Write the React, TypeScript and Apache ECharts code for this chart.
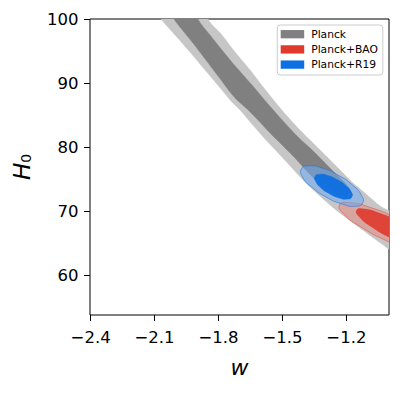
import React, { useEffect, useRef } from 'react';
import * as echarts from 'echarts';

const FONT = 'DejaVu Sans';

// axis ranges and tick labels
const xRange = [-2.403, -1.0];
const yRange = [53.75, 100];
const xTicks = [-2.4, -2.1, -1.8, -1.5, -1.2];
const yTicks = [60, 70, 80, 90, 100];

const legendNames = ['Planck', 'Planck+BAO', 'Planck+R19'];
const legendColors = ['#808080', '#df3a2b', '#0d6fe3'];

// contour boundaries, [w, H0]
const planck95: number[][] = [
  [-1.830, 101.41], [-1.849, 100.0], [-1.784, 97.5], [-1.723, 94.84], [-1.652, 92.03],
  [-1.587, 89.22], [-1.511, 86.09], [-1.436, 83.28], [-1.371, 81.09], [-1.300, 78.75],
  [-1.239, 76.72], [-1.174, 74.53], [-1.108, 72.66], [-1.042, 70.78], [-0.972, 69.22],
  [-0.972, 63.59], [-1.033, 64.84], [-1.098, 66.41], [-1.174, 68.28], [-1.249, 70.16],
  [-1.324, 72.34], [-1.394, 74.53], [-1.455, 76.72], [-1.511, 78.75], [-1.577, 81.09],
  [-1.643, 83.59], [-1.699, 85.78], [-1.737, 87.03], [-1.784, 88.91], [-1.863, 92.03],
  [-1.934, 94.84], [-2.004, 97.5], [-2.070, 100.0], [-2.098, 101.41],
];
const planck68: number[][] = [
  [-1.887, 101.41], [-1.896, 100.0], [-1.840, 97.5], [-1.784, 95.16], [-1.718, 92.5],
  [-1.643, 89.69], [-1.568, 86.72], [-1.493, 83.91], [-1.427, 81.56], [-1.361, 79.53],
  [-1.305, 77.66], [-1.249, 75.78], [-1.202, 74.22], [-1.183, 72.97],
  [-1.221, 72.34], [-1.277, 73.28], [-1.343, 74.84], [-1.399, 76.72], [-1.441, 78.28],
  [-1.497, 80.16], [-1.558, 82.19], [-1.624, 84.53], [-1.671, 86.09], [-1.713, 87.34],
  [-1.746, 88.59], [-1.802, 91.09], [-1.859, 93.59], [-1.920, 96.25], [-1.981, 98.75],
  [-2.009, 100.0], [-2.028, 101.41],
];
const r19_95: number[][] = [
  [-1.124, 71.25], [-1.157, 70.75], [-1.221, 71.11], [-1.296, 72.20], [-1.364, 73.77],
  [-1.406, 75.34], [-1.411, 76.56], [-1.377, 77.05], [-1.314, 76.70], [-1.239, 75.61],
  [-1.171, 74.05], [-1.129, 72.45],
];
const r19_68: number[][] = [
  [-1.175, 72.20], [-1.195, 71.88], [-1.234, 72.05], [-1.279, 72.70], [-1.320, 73.64],
  [-1.344, 74.63], [-1.347, 75.39], [-1.326, 75.72], [-1.288, 75.55], [-1.243, 74.89],
  [-1.202, 73.95], [-1.177, 72.97],
];
const bao95: number[][] = [
  [-0.740, 63.28], [-0.785, 62.91], [-0.884, 63.66], [-1.011, 65.34], [-1.131, 67.50],
  [-1.212, 69.53], [-1.232, 70.94], [-1.187, 71.30], [-1.088, 70.56], [-0.961, 68.88],
  [-0.838, 66.95], [-0.760, 64.67],
];
const bao68: number[][] = [
  [-0.801, 64.13], [-0.834, 63.91], [-0.905, 64.55], [-0.996, 65.86], [-1.081, 67.52],
  [-1.138, 69.06], [-1.152, 70.09], [-1.119, 70.31], [-1.047, 69.67], [-0.957, 68.36],
  [-0.872, 66.69], [-0.815, 65.16],
];

function contour(
  name: string,
  pts: number[][],
  legendColor: string,
  fill: string,
  stroke: string,
  lineWidth: number,
  smooth: number,
  z: number
) {
  // anchor item: the first boundary point that lies inside the axis ranges
  const anchor =
    pts.find((p) => p[0] >= xRange[0] && p[0] <= xRange[1] && p[1] >= yRange[0] && p[1] <= yRange[1]) || pts[0];
  return {
    type: 'custom',
    name,
    coordinateSystem: 'cartesian2d',
    clip: true,
    silent: true,
    z,
    itemStyle: { color: legendColor },
    data: [anchor],
    renderItem: (_params: any, api: any) => ({
      type: 'polygon',
      shape: { points: pts.map((p) => api.coord(p)), smooth },
      style: { fill, stroke, lineWidth },
    }),
  };
}

export default function App() {
  const ref = useRef<HTMLDivElement>(null);
  useEffect(() => {
    if (!ref.current) return;
    const chart = echarts.init(ref.current, undefined, { renderer: 'svg' });
    const fmtX = (v: number) => v.toFixed(1).replace('-', '\u2212');
    chart.setOption({
      animation: false,
      backgroundColor: '#fff',
      grid: {
        left: 90,
        top: 19,
        width: 299,
        height: 296,
        show: true,
        borderColor: '#000',
        borderWidth: 1,
        backgroundColor: 'transparent',
        outerBoundsMode: 'none',
        containLabel: false,
      },
      xAxis: {
        type: 'value',
        min: xRange[0],
        max: xRange[1],
        axisLine: { show: false },
        splitLine: { show: false },
        axisTick: { show: true, length: 6, lineStyle: { color: '#000', width: 1 }, customValues: xTicks },
        axisLabel: {
          customValues: xTicks,
          formatter: fmtX,
          fontSize: 16.5,
          fontFamily: FONT,
          color: '#000',
          margin: 13.5,
        },
        name: 'w',
        nameLocation: 'middle',
        nameGap: 41,
        nameTextStyle: { fontStyle: 'italic', fontSize: 22, fontFamily: FONT, color: '#000' },
      },
      yAxis: {
        type: 'value',
        min: yRange[0],
        max: yRange[1],
        axisLine: { show: false },
        splitLine: { show: false },
        axisTick: { show: true, length: 6, lineStyle: { color: '#000', width: 1 }, customValues: yTicks },
        axisLabel: {
          customValues: yTicks,
          formatter: (v: number) => String(v),
          fontSize: 16.5,
          fontFamily: FONT,
          color: '#000',
          margin: 11.5,
        },
        name: '{i|H}{s|0}',
        nameLocation: 'middle',
        nameRotate: 90,
        nameGap: 57,
        nameTextStyle: {
          rich: {
            i: { fontStyle: 'italic', fontSize: 23, fontFamily: FONT, color: '#000', lineHeight: 26, verticalAlign: 'bottom' },
            s: { fontSize: 14, fontFamily: FONT, color: '#000', lineHeight: 18, verticalAlign: 'bottom' },
          },
        },
      },
      legend: {
        data: legendNames,
        orient: 'vertical',
        left: 277.3,
        top: 25,
        icon: 'rect',
        itemWidth: 23.5,
        itemHeight: 8.3,
        itemGap: 3.2,
        padding: [3.2, 5, 4.4, 3.4],
        backgroundColor: '#fff',
        borderColor: '#cccccc',
        borderWidth: 1,
        borderRadius: 3,
        selectedMode: false,
        z: 10,
        textStyle: { fontSize: 10.7, fontFamily: FONT, color: '#000', lineHeight: 12, padding: [0, 0, 0, 2] },
      },
      series: [
        contour('Planck 95', planck95, legendColors[0], '#c6c6c6', '#c6c6c6', 0.5, 0.3, 1),
        contour('Planck', planck68, legendColors[0], '#808080', '#808080', 0.5, 0.3, 2),
        contour('Planck+BAO 95', bao95, legendColors[1], 'rgba(240,120,110,0.42)', 'rgba(225,60,45,0.6)', 0.8, 0.6, 3),
        contour('Planck+BAO', bao68, legendColors[1], 'rgba(222,55,40,0.88)', 'rgba(222,55,40,0.9)', 0.6, 0.6, 4),
        contour('Planck+R19 95', r19_95, legendColors[2], 'rgba(110,170,242,0.55)', 'rgba(30,115,228,0.75)', 0.8, 0.6, 5),
        contour('Planck+R19', r19_68, legendColors[2], 'rgba(13,110,225,0.94)', 'rgba(13,110,225,0.95)', 0.6, 0.6, 6),
      ],
    });
    return () => chart.dispose();
  }, []);
  return (
    <div
      ref={ref}
      style={{ position: 'fixed', left: 0, top: 0, width: 408, height: 394 }}
    />
  );
}
